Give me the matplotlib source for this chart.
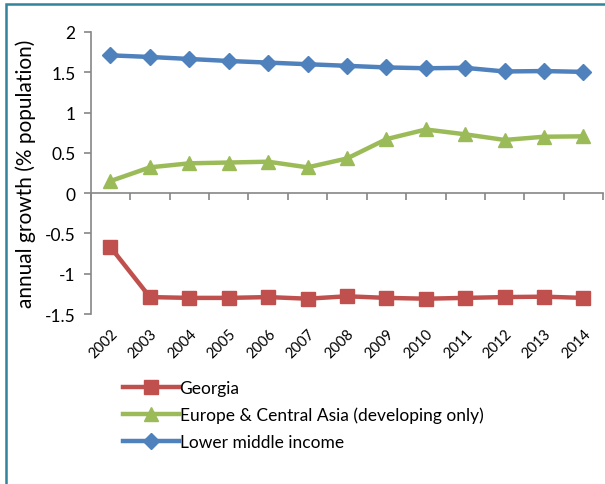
import matplotlib.pyplot as plt
from matplotlib.patches import Rectangle

plt.rcParams['font.family'] = ['Lato', 'DejaVu Sans']

years = ['2002', '2003', '2004', '2005', '2006', '2007', '2008',
         '2009', '2010', '2011', '2012', '2013', '2014']
georgia = [-0.67, -1.29, -1.30, -1.30, -1.29, -1.31, -1.28,
           -1.30, -1.31, -1.30, -1.29, -1.285, -1.30]
eca = [0.15, 0.32, 0.37, 0.38, 0.39, 0.32, 0.43,
       0.67, 0.79, 0.73, 0.66, 0.70, 0.705]
lower_mid = [1.71, 1.69, 1.665, 1.64, 1.62, 1.60, 1.58,
             1.56, 1.55, 1.555, 1.51, 1.515, 1.505]

fig = plt.figure(figsize=(6.05, 4.85), dpi=100)
ax = fig.add_axes([0.150, 0.3505, 0.847, 0.5815])

x = list(range(len(years)))
ax.plot(x, georgia, color='#C0504D', lw=3.2, marker='s', ms=10, label='Georgia')
ax.plot(x, eca, color='#9BBB59', lw=3.2, marker='^', ms=10,
        label='Europe & Central Asia (developing only)')
ax.plot(x, lower_mid, color='#4F81BD', lw=3.2, marker='D', ms=8,
        label='Lower middle income')

ax.set_xlim(-0.5, len(years) - 0.5)
ax.set_ylim(-1.5, 2)
ax.set_yticks([2, 1.5, 1, 0.5, 0, -0.5, -1, -1.5])
ax.set_yticklabels(['2', '1.5', '1', '0.5', '0', '-0.5', '-1', '-1.5'])
ax.tick_params(axis='y', direction='out', length=5, width=1.2, color='#868686',
               labelsize=12.5, pad=6)

# category labels at the bottom, no tick marks there
ax.set_xticks(x)
ax.set_xticklabels(years, rotation=45, ha='right', rotation_mode='anchor')
ax.tick_params(axis='x', length=0, labelsize=10.5, pad=9)

for side in ['top', 'right', 'bottom']:
    ax.spines[side].set_visible(False)
ax.spines['left'].set_color('#868686')
ax.spines['left'].set_linewidth(1.2)

# horizontal axis drawn through zero, tick marks between categories
zero = (0 - (-1.5)) / 3.5
sec = ax.secondary_xaxis(zero)
sec.set_xticks([i - 0.5 for i in range(len(years) + 1)])
sec.set_xticklabels([])
sec.tick_params(axis='x', direction='out', length=5, width=1.2, color='#868686')
sec.spines['bottom'].set_color('#868686')
sec.spines['bottom'].set_linewidth(1.2)
sec.xaxis.set_ticks_position('bottom')
sec.spines['top'].set_visible(False)

ax.set_ylabel('annual growth (% population)', fontsize=15, labelpad=6)

fig.legend(loc='upper left', bbox_to_anchor=(0.192, 0.229), frameon=False,
           fontsize=12.5, handlelength=3.2, labelspacing=0.62, handletextpad=0.05,
           borderaxespad=0)

# outer frame
fig.patches.append(Rectangle((6 / 605, -0.1), 1.2, 1.1 - 5 / 485,
                             transform=fig.transFigure, fill=False,
                             edgecolor='#31849B', lw=1.8))

fig.savefig('out.png', dpi=100)
